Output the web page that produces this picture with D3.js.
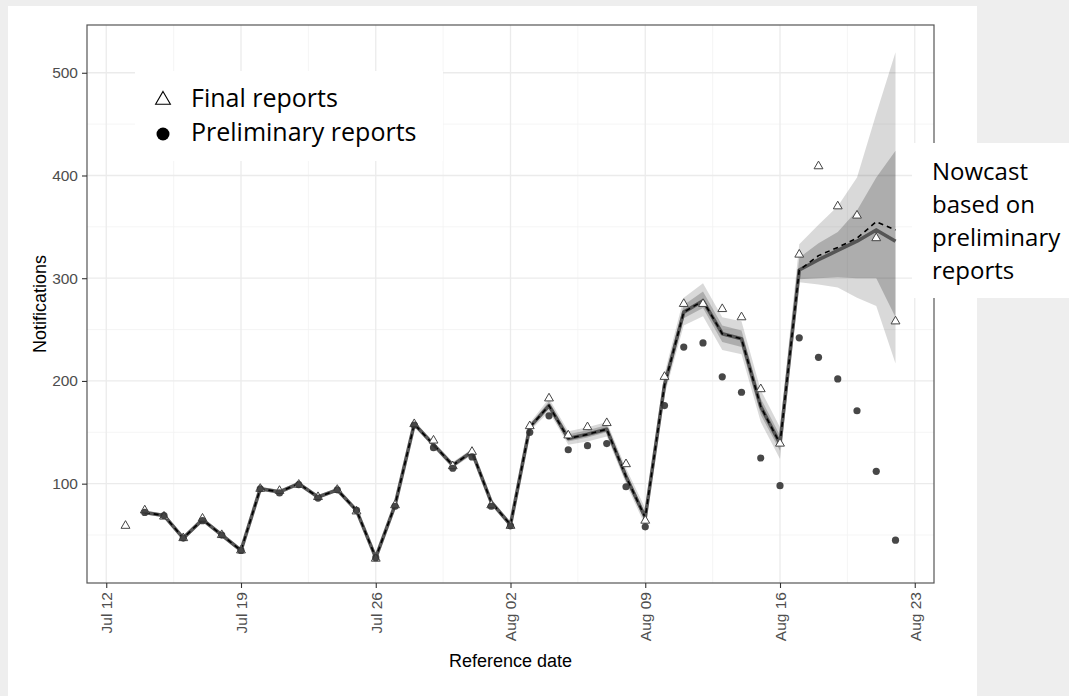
<!DOCTYPE html>
<html>
<head>
<meta charset="utf-8">
<script src="https://cdn.jsdelivr.net/npm/d3@7"></script>
<style>
body { margin: 0; background: #eeeeee; }
svg { display: block; }
</style>
</head>
<body>
<div id="chart"></div>
<script>
var W = 1069, H = 696;
var margin = {left: 87, top: 25, right: 135, bottom: 113};

// reference dates: one value per day starting here
var firstDay = "2020-07-13";

var finalReports = [60, 75, 69, 48, 67, 51, 36, 96, 94, 100, 88, 95, 74, 28, 80, 159, 143, 118, 132, 80, 60,
    157, 184, 148, 156, 160, 120, 65, 205, 276, 276, 271, 263, 193, 140, 324, 410, 371, 362, 340, 259];
var prelimReports = [null, 72, 69, 47, 64, 50, 35, 95, 91, 99, 86, 94, 74, 28, 78, 157, 135, 115, 126, 78, 59,
    150, 166, 133, 137, 139, 97, 58, 176, 233, 237, 204, 189, 125, 98, 242, 223, 202, 171, 112, 45];
var nowcastMedian = [null, 72, 69, 47, 65, 50, 35, 95, 92, 100, 87, 94, 74, 28, 79, 158, 138, 118, 131, 82, 60,
    155, 176, 144, 148, 153, 107, 67, 196, 267, 278, 246, 241, 175, 139, 308, 318, 327, 336, 347, 336];
var nowcastMean = [null, 72, 69, 47, 65, 50, 35, 95, 92, 100, 87, 94, 74, 28, 79, 158, 138, 118, 131, 82, 60,
    155, 176, 144, 148, 153, 107, 67, 196, 267, 278, 246, 241, 175, 139, 308, 322, 330, 339, 355, 347];
var outerLower = [null, 70, 67, 45, 63, 48, 33, 93, 90, 98, 85, 92, 72, 26, 77, 156, 135, 115, 128, 79, 57,
    151, 170, 138, 141, 146, 100, 59, 186, 254, 263, 230, 226, 160, 124, 296, 294, 291, 281, 273, 217];
var outerUpper = [null, 74, 71, 49, 67, 52, 37, 97, 94, 102, 89, 96, 76, 30, 81, 161, 141, 121, 134, 85, 63,
    159, 183, 151, 155, 160, 115, 76, 207, 281, 295, 262, 258, 191, 155, 333, 352, 370, 398, 460, 520];
var innerLower = [null, 71, 68, 46, 64, 49, 34, 94, 91, 99, 86, 93, 73, 27, 78, 157, 137, 117, 130, 81, 59,
    153, 173, 141, 145, 150, 103, 63, 191, 261, 271, 238, 233, 167, 132, 299, 300, 301, 300, 300, 262];
var innerUpper = [null, 73, 70, 48, 66, 51, 36, 96, 93, 101, 88, 95, 75, 29, 80, 160, 140, 120, 133, 84, 62,
    157, 180, 148, 152, 157, 111, 71, 202, 274, 287, 254, 249, 183, 147, 320, 334, 345, 366, 398, 424];

var yTicks = [100, 200, 300, 400, 500];
var yMinor = [50, 150, 250, 350, 450];
var legendLabels = ["Final reports", "Preliminary reports"];
var noteLines = ["Nowcast", "based on", "preliminary", "reports"];

var day0 = d3.utcParse("%Y-%m-%d")(firstDay);
var rows = finalReports.map(function(v, i){
    return {
        date: d3.utcDay.offset(day0, i),
        final: v,
        prelim: prelimReports[i],
        median: nowcastMedian[i],
        mean: nowcastMean[i],
        lo: outerLower[i], hi: outerUpper[i],
        lo2: innerLower[i], hi2: innerUpper[i]
    };
});

var svg = d3.select("#chart").append("svg").attr("width", W).attr("height", H);

// white plot image on the grey slide
svg.append("rect").attr("x", 8).attr("y", 6).attr("width", 969).attr("height", H - 6).attr("fill", "#ffffff");

var x = d3.scaleUtc()
    .domain([d3.utcParse("%Y-%m-%d")("2020-07-11"), d3.utcParse("%Y-%m-%d")("2020-08-24")])
    .range([margin.left, W - margin.right]);
var y = d3.scaleLinear().domain([3.3, 546.5]).range([H - margin.bottom, margin.top]);

var xMajor = d3.utcDay.range(d3.utcParse("%Y-%m-%d")("2020-07-12"), d3.utcParse("%Y-%m-%d")("2020-08-24"), 7);
var xMinorTicks = xMajor.map(function(d){ return d3.utcHour.offset(d, 84); }).filter(function(d){ return x(d) < W - margin.right; });

var grid = svg.append("g");
grid.selectAll(".ymin").data(yMinor).enter().append("line")
    .attr("x1", x.range()[0]).attr("x2", x.range()[1])
    .attr("y1", function(d){ return y(d); }).attr("y2", function(d){ return y(d); })
    .attr("stroke", "#f2f2f2").attr("stroke-width", 0.8);
grid.selectAll(".xmin").data(xMinorTicks).enter().append("line")
    .attr("x1", function(d){ return x(d); }).attr("x2", function(d){ return x(d); })
    .attr("y1", y.range()[0]).attr("y2", y.range()[1])
    .attr("stroke", "#f2f2f2").attr("stroke-width", 0.8);
grid.selectAll(".ymaj").data(yTicks).enter().append("line")
    .attr("x1", x.range()[0]).attr("x2", x.range()[1])
    .attr("y1", function(d){ return y(d); }).attr("y2", function(d){ return y(d); })
    .attr("stroke", "#ebebeb").attr("stroke-width", 1.3);
grid.selectAll(".xmaj").data(xMajor).enter().append("line")
    .attr("x1", function(d){ return x(d); }).attr("x2", function(d){ return x(d); })
    .attr("y1", y.range()[0]).attr("y2", y.range()[1])
    .attr("stroke", "#ebebeb").attr("stroke-width", 1.3);

var nc = rows.filter(function(d){ return d.median != null; });

var outerArea = d3.area().x(function(d){ return x(d.date); })
    .y0(function(d){ return y(d.lo); }).y1(function(d){ return y(d.hi); });
var innerArea = d3.area().x(function(d){ return x(d.date); })
    .y0(function(d){ return y(d.lo2); }).y1(function(d){ return y(d.hi2); });
svg.append("path").datum(nc).attr("d", outerArea).attr("fill", "#000").attr("opacity", 0.15);
svg.append("path").datum(nc).attr("d", innerArea).attr("fill", "#000").attr("opacity", 0.2);

var medLine = d3.line().x(function(d){ return x(d.date); }).y(function(d){ return y(d.median); });
var meanLine = d3.line().x(function(d){ return x(d.date); }).y(function(d){ return y(d.mean); });
svg.append("path").datum(nc).attr("d", medLine).attr("fill", "none")
    .attr("stroke", "#555555").attr("stroke-width", 3.6).attr("stroke-linejoin", "round");
svg.append("path").datum(nc).attr("d", meanLine).attr("fill", "none")
    .attr("stroke", "#000").attr("stroke-width", 1.6).attr("stroke-dasharray", "5,4");

var tri = d3.symbol().type(d3.symbolTriangle).size(34);
svg.append("g").selectAll("path").data(rows).enter().append("path")
    .attr("d", tri)
    .attr("transform", function(d){ return "translate(" + x(d.date) + "," + (y(d.final) + 1) + ")"; })
    .attr("fill", "#ffffff").attr("stroke", "#444").attr("stroke-width", 1);

svg.append("g").selectAll("circle").data(rows.filter(function(d){ return d.prelim != null; })).enter().append("circle")
    .attr("cx", function(d){ return x(d.date); })
    .attr("cy", function(d){ return y(d.prelim); })
    .attr("r", 3.6)
    .attr("fill", "#333").attr("opacity", 0.9);

// panel border
svg.append("rect")
    .attr("x", x.range()[0]).attr("y", y.range()[1])
    .attr("width", x.range()[1] - x.range()[0]).attr("height", y.range()[0] - y.range()[1])
    .attr("fill", "none").attr("stroke", "#555").attr("stroke-width", 1.2);

// axes
var yAxis = svg.append("g").attr("transform", "translate(" + x.range()[0] + ",0)")
    .call(d3.axisLeft(y).tickValues(yTicks).tickSize(5).tickPadding(4));
var xAxis = svg.append("g").attr("transform", "translate(0," + y.range()[0] + ")")
    .call(d3.axisBottom(x).tickValues(xMajor).tickSize(5).tickFormat(d3.utcFormat("%b %d")));
yAxis.select(".domain").remove();
xAxis.select(".domain").remove();
svg.selectAll(".tick line").attr("stroke", "#333").attr("stroke-width", 1.1);
svg.selectAll(".tick text").attr("fill", "#4d4d4d")
    .style("font-family", "'Liberation Sans', Arial, sans-serif").style("font-size", "15.5px");
xAxis.selectAll(".tick text")
    .attr("transform", "rotate(-90)")
    .attr("x", -9).attr("y", 0).attr("dy", "0.35em")
    .style("text-anchor", "end");

svg.append("text").text("Reference date")
    .attr("x", (x.range()[0] + x.range()[1]) / 2).attr("y", 667)
    .attr("text-anchor", "middle")
    .style("font-family", "'Liberation Sans', Arial, sans-serif").style("font-size", "18px");
svg.append("text").text("Notifications")
    .attr("transform", "translate(46," + ((y.range()[0] + y.range()[1]) / 2) + ") rotate(-90)")
    .attr("text-anchor", "middle")
    .style("font-family", "'Liberation Sans', Arial, sans-serif").style("font-size", "18px");

// legend
var lg = svg.append("g");
lg.append("rect").attr("x", 135).attr("y", 71).attr("width", 308).attr("height", 90).attr("fill", "#fff");
lg.append("path").attr("d", d3.symbol().type(d3.symbolTriangle).size(95))
    .attr("transform", "translate(163,100)")
    .attr("fill", "none").attr("stroke", "#000").attr("stroke-width", 1.1);
lg.append("circle").attr("cx", 163).attr("cy", 134).attr("r", 6.5).attr("fill", "#000");
lg.selectAll("text").data(legendLabels).enter().append("text")
    .text(function(d){ return d; })
    .attr("x", 191).attr("y", function(d, i){ return 107 + i * 34; })
    .style("font-family", "'Open Sans', sans-serif").style("font-size", "25px").attr("fill", "#000");

// annotation
var note = svg.append("g");
note.append("rect").attr("x", 912).attr("y", 143).attr("width", 157).attr("height", 155).attr("fill", "#fff");
note.selectAll("text").data(noteLines).enter().append("text")
    .text(function(d){ return d; })
    .attr("x", 932).attr("y", function(d, i){ return 180 + i * 33; })
    .style("font-family", "'Open Sans', sans-serif").style("font-size", "24px").attr("fill", "#000");
</script>
</body>
</html>
